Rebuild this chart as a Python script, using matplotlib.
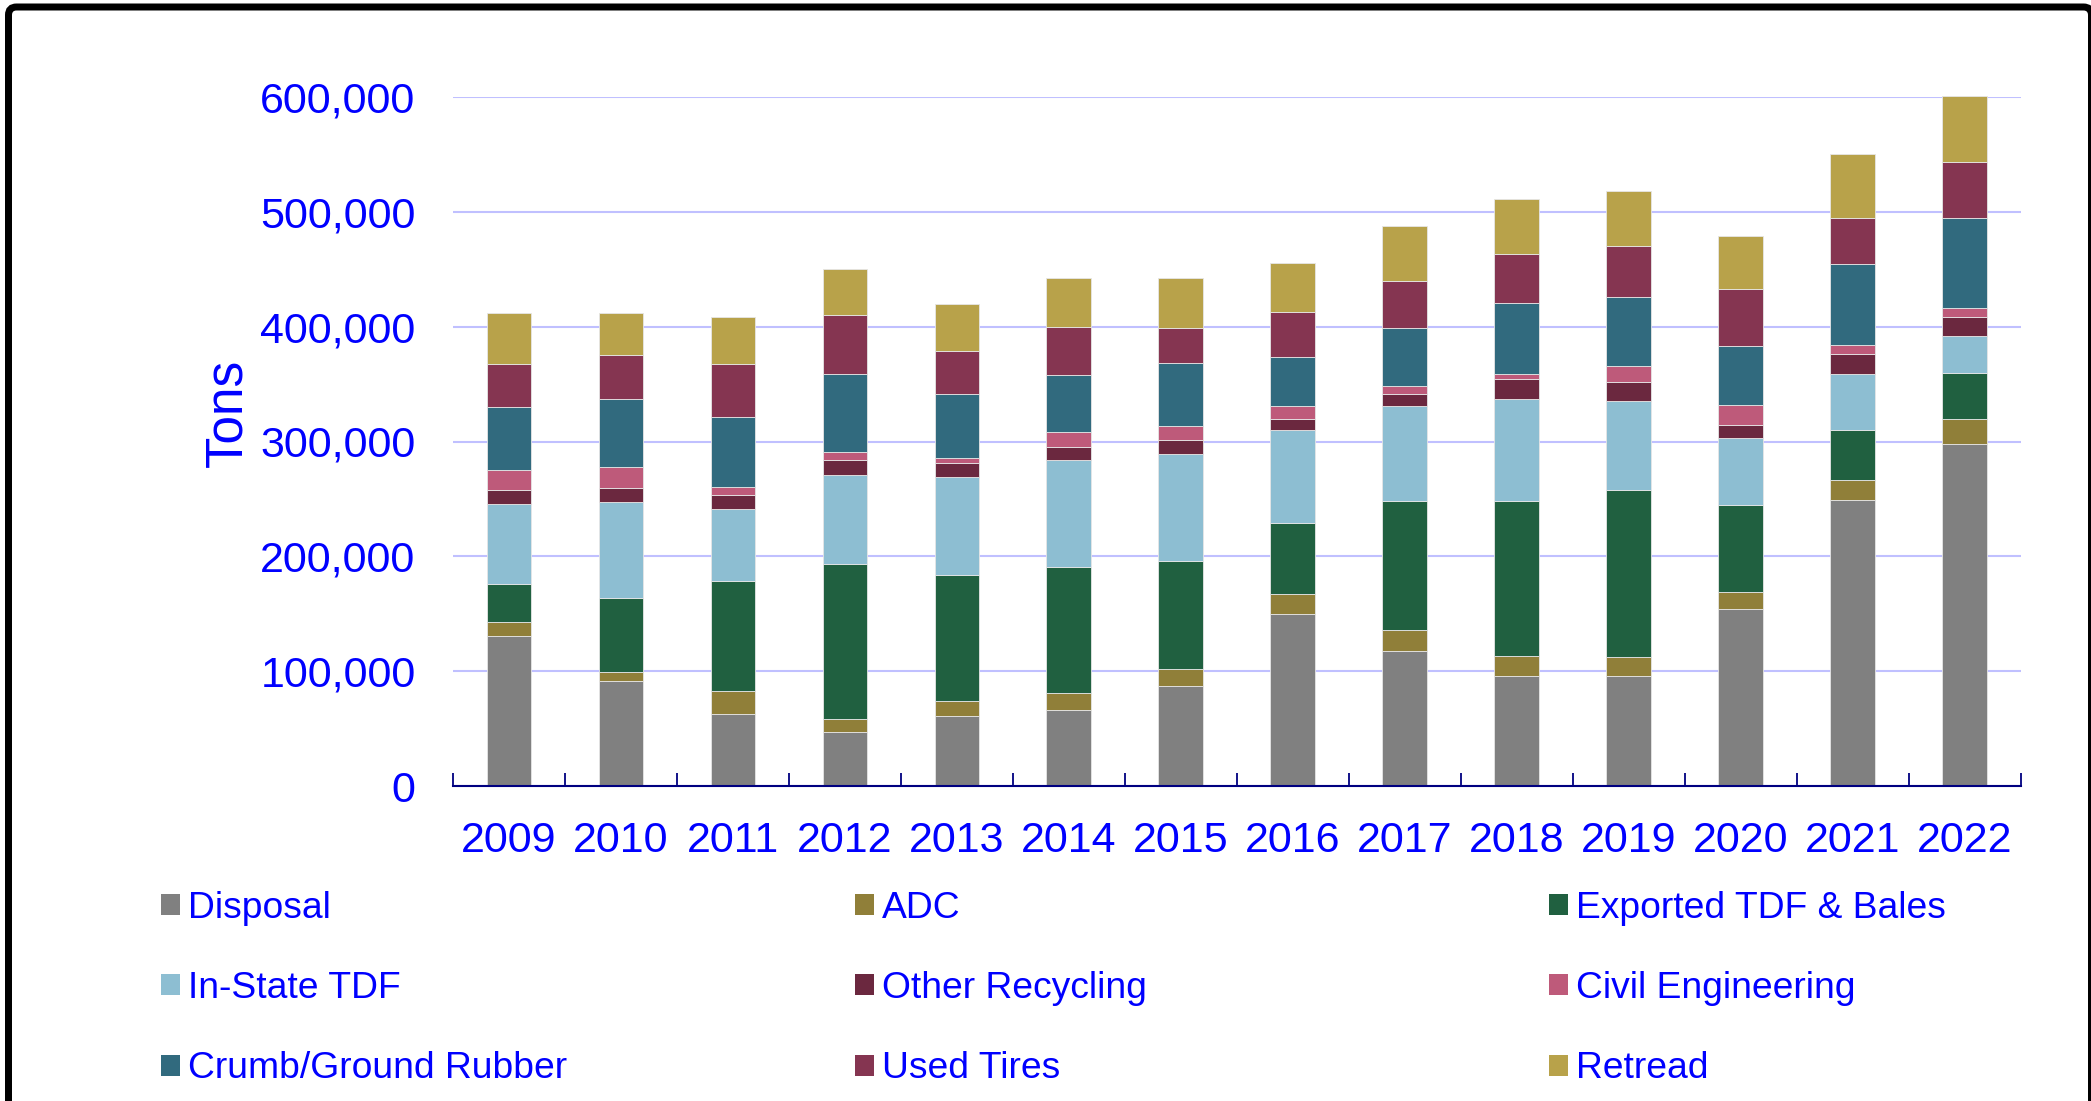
import numpy as np
import matplotlib.pyplot as plt
from matplotlib.patches import FancyBboxPatch, Patch
from matplotlib.transforms import IdentityTransform
from matplotlib.ticker import FuncFormatter

plt.rcParams['font.family'] = ['Liberation Sans', 'DejaVu Sans']

# Tire flow by end use, tons per year
years = [str(y) for y in range(2009, 2023)]
disposal = [130400, 91600, 62800, 47200, 61200, 66400, 86800, 150000, 117200, 95600, 95600, 154000, 248800, 298000]
adc = [12800, 8000, 19600, 10800, 12400, 14400, 15200, 17200, 18400, 18000, 16400, 15200, 18000, 21600]
exported = [32400, 64000, 96400, 135200, 110400, 110000, 94000, 62000, 112800, 134800, 145600, 75600, 43600, 40000]
in_state = [70000, 83600, 62000, 77200, 84800, 92800, 93200, 80400, 82800, 88400, 78000, 58000, 48400, 32400]
other_recycling = [12400, 12000, 12800, 13600, 12800, 11200, 12400, 9600, 10000, 17200, 16400, 12000, 17600, 16800]
civil = [17600, 18400, 6400, 6800, 4400, 13200, 11600, 11600, 6800, 5200, 13600, 16800, 7200, 7200]
crumb = [54800, 59600, 61600, 68000, 55200, 49600, 54800, 43200, 50800, 61200, 60000, 51200, 70800, 78400]
used_tires = [37200, 38000, 46000, 51600, 38000, 42000, 30800, 38800, 41200, 42800, 44800, 50400, 40400, 49200]
retread = [44400, 36400, 40800, 40000, 40800, 42400, 43600, 42400, 48000, 48000, 48000, 45600, 55200, 57600]

series = [
    ('Disposal', disposal, '#808080'),
    ('ADC', adc, '#907F39'),
    ('Exported TDF & Bales', exported, '#206040'),
    ('In-State TDF', in_state, '#8DBED2'),
    ('Other Recycling', other_recycling, '#6B283F'),
    ('Civil Engineering', civil, '#BE5A7A'),
    ('Crumb/Ground Rubber', crumb, '#316A7E'),
    ('Used Tires', used_tires, '#853551'),
    ('Retread', retread, '#B8A24A'),
]

W, H = 2091, 1101
blue = '#0000FF'
fig = plt.figure(figsize=(W / 100, H / 100), dpi=100)
ax = fig.add_axes([453 / W, 1 - 786 / H, 1567.7 / W, 689 / H])

x = np.arange(len(years))
bottom = np.zeros(len(years))
for name, vals, col in series:
    ax.bar(x, vals, 0.4, bottom=bottom, color=col, edgecolor='#e6e6e6',
           linewidth=0.6, clip_on=False, zorder=3)
    bottom += np.array(vals)

ax.set_xlim(-0.5, len(years) - 0.5)
ax.set_ylim(0, 600000)
ax.set_yticks(np.arange(0, 600001, 100000))
ax.yaxis.set_major_formatter(FuncFormatter(lambda v, p: f'{int(v):,}'))
ax.grid(axis='y', color='#C0C0FF', linewidth=1.5, zorder=0)
ax.set_axisbelow(True)

for s in ['left', 'right', 'top']:
    ax.spines[s].set_visible(False)
ax.spines['bottom'].set_color('#000080')
ax.spines['bottom'].set_linewidth(1.5)
ax.spines['bottom'].set_zorder(4)

ax.set_xticks(x)
ax.set_xticklabels(years)
ax.set_xticks(np.arange(-0.5, len(years)), minor=True)
ax.tick_params(axis='x', which='major', length=0, pad=25.5, labelsize=31, labelcolor=blue)
ax.tick_params(axis='x', which='minor', direction='in', length=9.4, width=1.3, color='#000080')
ax.tick_params(axis='y', length=0, pad=27, labelsize=31, labelcolor=blue)

ax.set_ylabel('Tons', fontsize=37, color=blue)
ax.yaxis.set_label_coords(-0.128, 0.541)

# legend: three columns placed by hand
col_x = [161, 855, 1549]
handles = [Patch(facecolor=c, edgecolor='none', label=n) for n, v, c in series]
for i, cx in enumerate(col_x):
    hs = [handles[i], handles[i + 3], handles[i + 6]]
    fig.legend(handles=hs, loc='center left',
               bbox_to_anchor=(cx / W, 1 - 988.5 / H), bbox_transform=fig.transFigure,
               frameon=False, fontsize=26.8, labelcolor=blue, borderpad=0, borderaxespad=0,
               handlelength=0.5, handleheight=0.5, handletextpad=0.22, labelspacing=1.22)

# outer frame
frame = FancyBboxPatch((8.5, -20), 2083, 1114, boxstyle='round,pad=0,rounding_size=8',
                       transform=IdentityTransform(), fill=False, edgecolor='black', linewidth=5.04)
fig.patches.append(frame)

fig.savefig('out.png', dpi=100)
